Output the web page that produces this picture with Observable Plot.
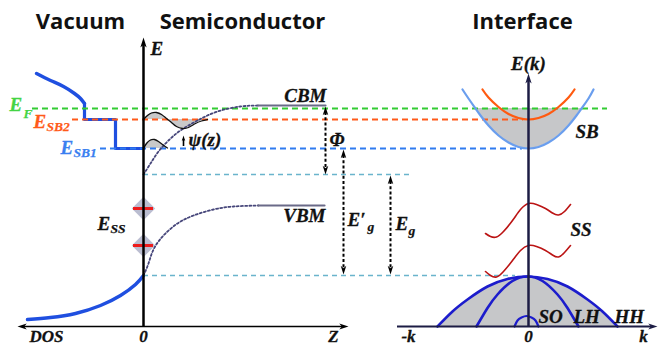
<!DOCTYPE html>
<html><head><meta charset="utf-8">
<script src="https://cdn.jsdelivr.net/npm/d3@7"></script>
<script src="https://cdn.jsdelivr.net/npm/@observablehq/plot@0.6"></script>
<style>
html,body{margin:0;padding:0;background:#fff;}
#chart svg{display:block;background:#fff;}
</style>
</head><body><div id="chart"></div>
<script>
// ---------- DATA (diagram units: x to the right, energy y measured downward) ----------
// Horizontal reference energy levels
const levelKeys  = ["EF", "ESB2", "ESB1", "CB0", "VB0"];
const levelY     = [108, 119, 148, 174, 275];
const levelFrom  = [32, 72, 100, 143, 143];
const levelTo    = [607, 523, 522, 410, 515];

// Band edges in the semiconductor
const cbmFlat = [[258, 105], [325, 105]];
const vbmFlat = [[258, 205], [324, 205]];
const cbBend  = [[143,174],[150,163],[158,151],[168,140],[180,130],[197,120],[217,111],[240,106],[258,105]];
const vbBend  = [[143,275],[148,263],[153,249],[163,235],[177,223],[193,215],[213,209],[233,206],[258,205]];

// Vacuum side density of states
const dosUpperCurve = [[36,73],[50,80],[63,86],[74,93],[80,98],[84,103]];
const dosUpperSteps = [[84,103],[84,119],[115,119],[115,148],[143,148]];
const dosLower      = [[27,319],[50,317],[75,313],[100,305],[120,295],[135,284],[143,275]];

// Subband wavefunctions psi(z)
const psi2 = [[143,119],[147,115],[151,112.5],[156,112],[161,114],[166,118],[171,122],[176,126],[182,128],[188,127],[195,123],[201,120.5],[207,119]];
const psi1 = [[143,148],[146,143],[150,139.5],[154,139],[158,141],[162,144],[167,147.5]];

// Surface states
const surfaceStates = [208, 245];

// Interface E(k) dispersions
const sbBand = [[462,89],[468,98],[475,108],[480,115],[488,125],[498,135],[508,142],[518,146.5],[528,148],[538,146.5],[548,142],[558,135],[568,125],[576,115],[581,108],[588,98],[593,89]];
const sb2Band = [[482,89],[488,97],[498,106.5],[508,113.5],[518,117.5],[528,119],[538,117.5],[548,113.5],[558,106.5],[568,97],[574,89]];
const ssUpper = [[485,233],[490,236],[496,236.5],[503,231],[512,220],[520,209],[528,203],[536,204],[545,208],[552,212.5],[558,214.5],[564,211],[570,204]];
const ssLower = [[485,271],[490,275],[496,276.5],[503,271],[512,260],[520,250],[528,245],[536,246],[545,250],[552,254.5],[558,256.5],[564,252],[570,245]];
const hhBand = [[437,326],[452,311],[467,299],[487,286],[507,278.5],[527,276],[547,278.5],[567,286],[587,299],[602,311],[617,326]];
const lhBand = [[476,326],[487,307.5],[497,294],[512,280.5],[527,276],[542,280.5],[557,294],[567,307.5],[578,326]];
const soBand = [[514,326],[517,320],[521,317],[526,315.5],[531,317],[535,320],[538,326]];

// Arrows (energy gaps) : x, top, bottom
const gapArrows = [
  {name:"Phi", x:325, top:106, bottom:174},
  {name:"Eg'", x:343, top:149, bottom:274},
  {name:"Eg",  x:390, top:175, bottom:274}
];

// Text
const titles = [
  {text:"Vacuum", x:80, y:21},
  {text:"Semiconductor", x:242, y:21},
  {text:"Interface", x:522, y:21}
];
const mathLabels = [
  {text:"E", x:150, y:48, a:"start"},
  {text:"E", x:9, y:104, a:"start", k:"EF"},
  {text:"E", x:33, y:121, a:"start", k:"ESB2"},
  {text:"E", x:60, y:147, a:"start", k:"ESB1"},
  {text:"E", x:97, y:223, a:"start"},
  {text:"E\u2032", x:347, y:219, a:"start"},
  {text:"E", x:395, y:223, a:"start"},
  {text:"CBM", x:326, y:95, a:"end"},
  {text:"VBM", x:325, y:215, a:"end"},
  {text:"\u03A6", x:329, y:139, a:"start"},
  {text:"\u03C8(z)", x:188, y:139, a:"start"},
  {text:"E(k)", x:528, y:63, a:"middle"},
  {text:"SB", x:575, y:131, a:"start"},
  {text:"SS", x:570, y:229, a:"start"},
  {text:"SO", x:538, y:316, a:"start"},
  {text:"LH", x:573, y:316, a:"start"},
  {text:"HH", x:614, y:316, a:"start"}
];
const axisLabels = [
  {text:"DOS", x:46, y:336},
  {text:"0", x:143, y:336},
  {text:"Z", x:333, y:336},
  {text:"-k", x:408, y:336},
  {text:"0", x:528, y:336},
  {text:"k", x:643, y:336}
];
const subLabels = [
  {text:"F", x:23, y:113, k:"EF"},
  {text:"SB2", x:46, y:126, k:"ESB2"},
  {text:"SB1", x:73, y:152, k:"ESB1"},
  {text:"SS", x:110, y:228},
  {text:"g", x:367, y:226},
  {text:"g", x:408, y:230}
];

// ---------- STYLE ----------
const palette = {EF:"#33cc33", ESB2:"#ff5a1a", ESB1:"#2f7bf0", CB0:"#6ab4cc", VB0:"#6ab4cc"};
const labelColor = {EF:"#44d444", ESB2:"#ff5a1a", ESB1:"#3a7ff0"};
const serif = "'Liberation Serif', 'Times New Roman', serif";
const sans = "'Open Sans', 'DejaVu Sans', sans-serif";

function head(dx, dy, len, wid) {
  return {draw(ctx, size) {
    const r = Math.sqrt(size / Math.PI);
    const L = r * len, w = r * wid;
    const bx = -dx * L, by = -dy * L, px = -dy, py = dx;
    ctx.moveTo(0, 0);
    ctx.lineTo(bx + px * w, by + py * w);
    ctx.lineTo(-dx * L * 0.72, -dy * L * 0.72);
    ctx.lineTo(bx - px * w, by - py * w);
    ctx.closePath();
  }};
}
const UP = head(0, -1, 2.2, 0.7), DOWN = head(0, 1, 2.2, 0.7), LEFT = head(-1, 0, 2.2, 0.7), RIGHT = head(1, 0, 2.2, 0.7);

const levels = levelKeys.map((k, i) => ({k, y: levelY[i], x1: levelFrom[i], x2: levelTo[i]}));
const X = d => d[0], Y = d => d[1];
const sbFill = sbBand.filter(d => d[1] >= 108);

const mathStyle = {x: "x", y: "y", text: "text", fontFamily: serif, fontWeight: "bold", fontStyle: "italic", fontSize: 19, fill: d => labelColor[d.k] || "#111", stroke: d => labelColor[d.k] || "#111", strokeWidth: 0.3};
const mathText = anchor => Plot.text(mathLabels.filter(d => d.a === anchor), {...mathStyle, textAnchor: anchor});

const chart = Plot.plot({
  width: 660, height: 346, margin: 0,
  x: {domain: [0, 660], range: [0, 660], axis: null},
  y: {domain: [0, 346], range: [0, 346], axis: null},
  style: {background: "#fff"},
  marks: [
    // fills
    Plot.areaY(psi2, {x: X, y1: 119, y2: Y, fill: "#c9c9c9"}),
    Plot.areaY(psi1, {x: X, y1: 148, y2: Y, fill: "#c9c9c9"}),
    Plot.areaY(sbFill, {x: X, y1: 108, y2: Y, fill: "#c6c7c9", curve: "natural"}),
    Plot.areaY(hhBand, {x: X, y1: 326, y2: Y, fill: "#c6c7c9", curve: "natural"}),
    // surface state diamonds
    Plot.dot(surfaceStates, {x: 143, y: d => d, symbol: "diamond2", r: 10.5, fill: "#aeb2c8", fillOpacity: 0.85, stroke: "none"}),
    // vacuum DOS
    Plot.line(dosUpperCurve, {x: X, y: Y, stroke: "#1f4fe0", strokeWidth: 3.5, curve: "natural"}),
    Plot.line(dosUpperSteps, {x: X, y: Y, stroke: "#1f4fe0", strokeWidth: 3.2}),
    Plot.line(dosLower, {x: X, y: Y, stroke: "#1f4fe0", strokeWidth: 3.5, curve: "natural"}),
    // dashed levels
    Plot.ruleY(levels.filter(d => d.k.startsWith("E")), {y: "y", x1: "x1", x2: "x2", stroke: d => palette[d.k], strokeWidth: 1.8, strokeDasharray: "6,4"}),
    Plot.ruleY(levels.filter(d => !d.k.startsWith("E")), {y: "y", x1: "x1", x2: "x2", stroke: d => palette[d.k], strokeWidth: 1.5, strokeDasharray: "5,4"}),
    // band bending
    Plot.line(cbBend, {x: X, y: Y, stroke: "#46467a", strokeWidth: 1.8, strokeDasharray: "2,2.2", curve: "natural"}),
    Plot.line(vbBend, {x: X, y: Y, stroke: "#46467a", strokeWidth: 1.8, strokeDasharray: "2,2.2", curve: "natural"}),
    Plot.line(cbmFlat, {x: X, y: Y, stroke: "#6a6a88", strokeWidth: 2.2}),
    Plot.line(vbmFlat, {x: X, y: Y, stroke: "#6a6a88", strokeWidth: 2.2}),
    // wavefunctions
    Plot.line(psi2, {x: X, y: Y, stroke: "#111", strokeWidth: 1.3, curve: "natural"}),
    Plot.line(psi1, {x: X, y: Y, stroke: "#111", strokeWidth: 1.3, curve: "natural"}),
    // surface state levels
    Plot.ruleY(surfaceStates, {y: d => d, x1: 133, x2: 153, stroke: "#ee1c1c", strokeWidth: 3}),
    // interface bands
    Plot.line(sbBand, {x: X, y: Y, stroke: "#6a9eee", strokeWidth: 2.2, curve: "natural"}),
    Plot.line(sb2Band, {x: X, y: Y, stroke: "#ff5a10", strokeWidth: 2.2, curve: "natural"}),
    Plot.line(ssUpper, {x: X, y: Y, stroke: "#bb1414", strokeWidth: 1.6, curve: "natural"}),
    Plot.line(ssLower, {x: X, y: Y, stroke: "#bb1414", strokeWidth: 1.6, curve: "natural"}),
    Plot.line(hhBand, {x: X, y: Y, stroke: "#1c1ccc", strokeWidth: 2.6, curve: "natural"}),
    Plot.line(lhBand, {x: X, y: Y, stroke: "#1c1ccc", strokeWidth: 2.6, curve: "natural"}),
    Plot.line(soBand, {x: X, y: Y, stroke: "#1c1ccc", strokeWidth: 2.2, curve: "natural"}),
    // axes
    Plot.ruleX([143], {x: d => d, y1: 44, y2: 326, stroke: "#000", strokeWidth: 2.5}),
    Plot.ruleY([326], {y: d => d, x1: 22, x2: 343, stroke: "#000", strokeWidth: 1.6}),
    Plot.ruleX([528], {x: d => d, y1: 80, y2: 326, stroke: "#1c1c44", strokeWidth: 2.5}),
    Plot.ruleY([326], {y: d => d, x1: 397, x2: 652, stroke: "#1c1c44", strokeWidth: 2}),
    Plot.dot([[143, 37]], {x: X, y: Y, symbol: UP, r: 4.5, fill: "#000", stroke: "none"}),
    Plot.dot([[17, 326]], {x: X, y: Y, symbol: LEFT, r: 4.2, fill: "#000", stroke: "none"}),
    Plot.dot([[348, 326]], {x: X, y: Y, symbol: RIGHT, r: 4.2, fill: "#000", stroke: "none"}),
    Plot.dot([[528, 73]], {x: X, y: Y, symbol: UP, r: 4.5, fill: "#1c1c44", stroke: "none"}),
    Plot.dot([[657, 326]], {x: X, y: Y, symbol: RIGHT, r: 4.2, fill: "#1c1c44", stroke: "none"}),
    // gap arrows
    Plot.ruleX(gapArrows, {x: "x", y1: d => d.top + 6, y2: d => d.bottom - 6, stroke: "#000", strokeWidth: 2, strokeDasharray: "3,2.2"}),
    Plot.dot(gapArrows, {x: "x", y: "top", symbol: UP, r: 4, fill: "#000", stroke: "none"}),
    Plot.dot(gapArrows, {x: "x", y: "bottom", symbol: DOWN, r: 4, fill: "#000", stroke: "none"}),
    // psi arrow
    Plot.ruleX([183], {x: d => d, y1: 139, y2: 146, stroke: "#000", strokeWidth: 1.6}),
    Plot.dot([[183, 135]], {x: X, y: Y, symbol: UP, r: 2.6, fill: "#000", stroke: "none"}),
    // text
    Plot.text(titles, {x: "x", y: "y", text: "text", textAnchor: "middle", fontFamily: sans, fontWeight: "bold", fontSize: 22, fill: "#111"}),
    mathText("start"),
    mathText("middle"),
    mathText("end"),
    Plot.text(axisLabels, {x: "x", y: "y", text: "text", textAnchor: "middle", fontFamily: serif, fontWeight: "bold", fontStyle: "italic", fontSize: 17, fill: "#111", stroke: "#111", strokeWidth: 0.3}),
    Plot.text(subLabels, {x: "x", y: "y", text: "text", textAnchor: "start", fontFamily: serif, fontWeight: "bold", fontStyle: "italic", fontSize: 13.5, fill: d => labelColor[d.k] || "#111", stroke: d => labelColor[d.k] || "#111", strokeWidth: 0.25})
  ]
});
document.getElementById("chart").appendChild(chart);
</script>
</body></html>
